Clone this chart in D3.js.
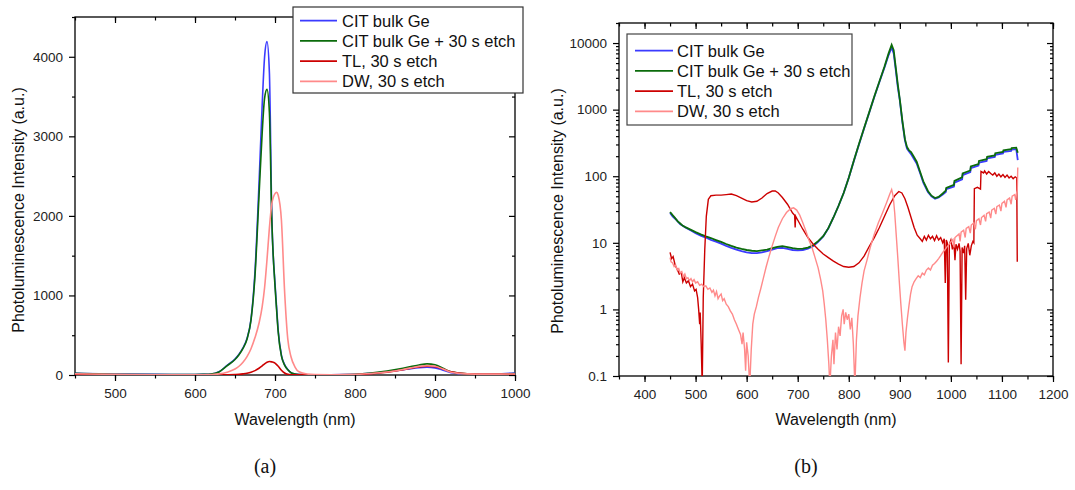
<!DOCTYPE html>
<html>
<head>
<meta charset="utf-8">
<script src="https://cdn.jsdelivr.net/npm/d3@7"></script>
<style>
body { margin: 0; background: #fff; }
svg { display: block; font-family: "Liberation Sans", Arial, sans-serif; }
.axis line { stroke: #000; stroke-width: 1.2; }
.axis text { font-size: 13.5px; fill: #222; font-family: "Liberation Sans", Arial, sans-serif; }
</style>
</head>
<body>
<svg id="fig" width="1075" height="490"></svg>
<script>
// series names + colours (same for both panels)
const seriesNames = ["CIT bulk Ge", "CIT bulk Ge + 30 s etch", "TL, 30 s etch", "DW, 30 s etch"];
const seriesColors = ["#3b3bff", "#0b6b0b", "#cc0000", "#ff8a8a"];

// panel (a), linear intensity
const wlLin = [450, 500, 550, 600, 610, 620, 630, 640, 650, 655, 660, 665, 670, 675, 680, 684, 687, 690, 693, 696, 700, 702, 704, 708, 712, 716, 720, 725, 730, 740, 750, 770, 800, 820, 840, 860, 870, 880, 890, 900, 910, 920, 940, 960, 1000];
const linCIT = [22, 12, 8, 6, 8, 12, 40, 120, 200, 260, 340, 460, 700, 1300, 2400, 3400, 4000, 4190, 3800, 2000, 1150, 850, 560, 250, 130, 70, 30, 12, 6, 4, 3, 3, 8, 20, 40, 65, 80, 92, 98, 90, 60, 30, 12, 10, 25];
const linCITetch = [20, 10, 7, 6, 8, 12, 38, 115, 195, 255, 335, 450, 690, 1250, 2250, 3050, 3480, 3590, 3300, 1950, 1120, 820, 540, 240, 125, 65, 28, 12, 6, 4, 3, 4, 10, 25, 50, 85, 105, 125, 140, 128, 85, 40, 14, 10, 18];
const linTL = [8, 2, 0, 0, 0, 0, 0, 2, 5, 8, 14, 22, 35, 55, 85, 115, 140, 160, 170, 165, 150, 130, 110, 60, 25, 8, 3, 2, 2, 1, 1, 1, 4, 15, 35, 65, 85, 100, 110, 105, 75, 40, 15, 12, 10];
const linDW = [15, 8, 4, 2, 3, 6, 14, 35, 75, 110, 160, 230, 330, 470, 650, 860, 1100, 1450, 1850, 2150, 2280, 2296, 2260, 1950, 1050, 450, 230, 100, 40, 12, 6, 4, 8, 18, 38, 70, 90, 108, 118, 110, 75, 35, 14, 11, 12];

const xTicksA = [500, 600, 700, 800, 900, 1000];
const xMinorA = [450, 500, 550, 600, 650, 700, 750, 800, 850, 900, 950, 1000];
const yTicksA = [0, 1000, 2000, 3000, 4000];
const yMinorA = [500, 1500, 2500, 3500, 4500];

// panel (b), log intensity: [nm, CIT bulk Ge, CIT bulk Ge + etch]
const citLog = [[450,28,29],[455,25,26],[460,23,23.5],[465,21,21],[470,19,19.5],[475,18,18],[480,17,17.2],[490,15.4,15.8],[500,14,14.5],[510,12.8,13.4],[520,12,12.5],[530,11.1,11.8],[540,10.4,11],[550,9.7,10.3],[560,9,9.6],[570,8.4,9],[580,7.9,8.5],[590,7.5,8.1],[600,7.2,7.8],[610,7,7.6],[620,7,7.5],[630,7.2,7.7],[640,7.5,7.9],[650,7.9,8.3],[660,8.3,8.7],[670,8.4,8.9],[680,8.1,8.6],[690,7.8,8.3],[700,7.7,8.1],[710,7.8,8.2],[720,8.2,8.5],[730,8.9,9.2],[740,10.3,10.6],[750,12.5,12.6],[760,16.5,16.6],[770,24,24],[780,36,36],[790,56,56],[800,95,95],[810,170,172],[820,300,305],[830,520,530],[840,900,910],[850,1550,1580],[860,2600,2650],[870,4300,4450],[878,6600,7000],[884,8600,9400],[888,7000,7800],[892,4000,4300],[896,2200,2400],[900,1380,1420],[905,650,680],[910,345,360],[914,260,275],[918,235,245],[922,215,230],[926,190,205],[933,155,165],[940,110,115],[946,80,84],[955,58,60],[962,50,51],[969,46,47],[976,48,49],[984,53,55],[990,58,61],[991,64,67],[1006,70,74],[1007,80,85],[1022,90,96],[1023,104,110],[1038,115,122],[1039,132,140],[1054,145,152],[1055,160,170],[1070,170,180],[1071,185,196],[1086,195,205],[1087,210,222],[1102,220,232],[1103,232,245],[1118,240,255],[1119,250,265],[1128,255,268],[1131,175,225]];

// [nm, TL 30 s etch]
const tlLog = [[450,7.2],[453,5.8],[456,6.2],[460,4.6],[464,4],[468,3.4],[472,3.6],[475,2.6],[478,3],[482,2.5],[486,2.7],[490,2.2],[494,2.4],[498,1.9],[501,2],[504,1.5],[506,1],[508,0.6],[509,0.9],[511,0.3],[513,0.07],[515,1.5],[518,8],[521,25],[525,45],[530,51],[540,52],[550,52],[560,53],[570,54],[580,51],[590,47],[600,43],[610,41],[620,42],[630,47],[640,55],[650,60],[656,60],[662,56],[670,48],[680,38],[690,28],[694,26],[695,17],[696,25],[700,22],[710,16],[720,12],[730,9.6],[740,8],[750,6.8],[760,6],[770,5.3],[780,4.8],[790,4.4],[800,4.3],[810,4.4],[820,5],[830,6.3],[840,8.8],[850,12],[860,17],[870,25],[880,37],[890,51],[898,59],[904,56],[910,46],[916,34],[922,24],[928,17],[934,13],[940,11.5],[944,10.5],[948,12.5],[952,11],[956,13],[960,11.5],[964,12.5],[968,10.8],[972,12.8],[976,11],[980,12],[984,10],[987,11.5],[989,2.5],[991,11],[993,10],[995,0.16],[997,9.5],[1000,11],[1003,8],[1006,10],[1008,5.5],[1010,9.5],[1013,8],[1016,9.8],[1018,7.5],[1020,0.15],[1022,8.5],[1025,7],[1027,9],[1029,1.4],[1031,8.2],[1034,9.8],[1037,6.5],[1040,9],[1043,10.5],[1045,10],[1046,65],[1052,68],[1058,64],[1059,118],[1064,112],[1066,120],[1070,108],[1074,118],[1078,110],[1082,104],[1086,112],[1090,100],[1094,108],[1098,98],[1102,106],[1106,96],[1110,104],[1114,94],[1118,100],[1122,92],[1126,98],[1129,94],[1130,5.2]];

// [nm, DW 30 s etch]
const dwLog = [[450,6],[452,5.2],[455,5],[458,4.4],[461,4.6],[464,3.9],[467,4.1],[470,3.5],[473,3.7],[476,3.1],[479,3.4],[482,2.9],[485,3],[488,2.7],[491,2.9],[494,2.6],[497,2.8],[500,2.5],[504,2.6],[508,2.3],[512,2.4],[516,2.2],[520,2.25],[524,2],[528,2.1],[532,1.8],[535,1.95],[538,1.6],[541,1.85],[544,1.45],[547,1.6],[550,1.7],[553,1.35],[556,1.45],[560,1.2],[564,1.1],[568,0.95],[572,0.85],[576,0.7],[580,0.6],[584,0.5],[588,0.42],[591,0.3],[593,0.45],[596,0.25],[598,0.12],[600,0.32],[603,0.2],[606,0.07],[609,0.25],[612,0.6],[615,0.85],[619,1.1],[623,1.5],[628,2.1],[633,3],[638,4.3],[644,6.3],[650,9],[656,12.5],[662,17],[670,23],[678,28.5],[686,32.5],[692,33.5],[698,31],[704,26],[710,20],[716,15],[722,11],[728,8.5],[734,6],[740,4.2],[745,2.8],[749,1.9],[752,1.2],[755,0.7],[758,0.35],[761,0.15],[763,0.07],[766,0.2],[769,0.35],[771,0.15],[774,0.45],[777,0.25],[780,0.55],[783,0.4],[786,0.8],[789,1],[791,0.6],[794,0.9],[797,0.7],[800,0.85],[803,0.5],[806,0.75],[809,0.3],[812,0.07],[815,0.35],[818,0.8],[822,1.5],[826,2.5],[830,3.8],[836,5.6],[842,8.5],[850,13.5],[858,20],[866,28],[874,40],[880,53],[884,63],[887,50],[890,28],[893,13],[896,6],[899,2.6],[902,1.2],[905,0.6],[908,0.32],[910,0.24],[912,0.45],[915,0.75],[918,1.15],[921,1.7],[924,2.2],[928,2.6],[932,2.9],[936,3.2],[940,3],[944,3.5],[948,3.3],[952,3.9],[956,4.2],[960,3.9],[964,4.6],[968,4.9],[972,5.3],[976,5.8],[980,6.4],[984,7.2],[988,7.8],[992,8.6],[996,9.4],[1000,10.3],[1004,11.2],[1006,8.5],[1008,12],[1012,12.8],[1016,13.6],[1018,10.5],[1020,14.5],[1025,15.5],[1028,12],[1030,16.5],[1035,17.5],[1038,14],[1040,18.5],[1045,20],[1048,16],[1050,21.5],[1055,23],[1058,18.5],[1060,24],[1065,26],[1068,21],[1070,27.5],[1075,29],[1078,23.5],[1080,31],[1085,33],[1088,27],[1090,35],[1095,37],[1098,30],[1100,39],[1105,42],[1108,34],[1110,44],[1115,47],[1118,38],[1120,50],[1125,53],[1127,44],[1129,57],[1130,62],[1131,135]];

const xTicksB = [400, 500, 600, 700, 800, 900, 1000, 1100, 1200];
const xMinorB = [350, 400, 450, 500, 550, 600, 650, 700, 750, 800, 850, 900, 950, 1000, 1050, 1100, 1150, 1200];
const yTicksB = [0.1, 1, 10, 100, 1000, 10000];

const svg = d3.select("#fig");
svg.append("rect").attr("width", 1075).attr("height", 490).attr("fill", "#fff");

// frame with ticks on all four sides (outward bottom/left, inward top/right)
function frameAxes(x, y, xMajor, xMinor, yMajor, yMinor) {
  const [x0, x1] = x.range();
  const [y0, y1] = y.range();
  const g = svg.append("g").attr("class", "axis");

  g.append("g").attr("transform", `translate(0,${y0})`)
    .call(d3.axisBottom(x).tickValues(xMinor).tickSize(3.5).tickFormat(""));
  g.append("g").attr("transform", `translate(0,${y0})`)
    .call(d3.axisBottom(x).tickValues(xMajor).tickSize(6).tickPadding(7).tickFormat(d => String(d)));
  g.append("g").attr("transform", `translate(0,${y1})`)
    .call(d3.axisBottom(x).tickValues(xMinor).tickSize(3.5).tickFormat(""));
  g.append("g").attr("transform", `translate(0,${y1})`)
    .call(d3.axisBottom(x).tickValues(xMajor).tickSize(6).tickFormat(""));

  g.append("g").attr("transform", `translate(${x0},0)`)
    .call(d3.axisLeft(y).tickValues(yMinor).tickSize(3).tickFormat(""));
  g.append("g").attr("transform", `translate(${x0},0)`)
    .call(d3.axisLeft(y).tickValues(yMajor).tickSize(6).tickPadding(6).tickFormat(d => String(d)));
  g.append("g").attr("transform", `translate(${x1},0)`)
    .call(d3.axisRight(y).tickValues(yMinor).tickSize(-3).tickFormat(""));
  g.append("g").attr("transform", `translate(${x1},0)`)
    .call(d3.axisRight(y).tickValues(yMajor).tickSize(-6).tickFormat(""));

  g.selectAll(".domain").remove();
  svg.append("rect")
    .attr("x", x0).attr("y", y1)
    .attr("width", x1 - x0).attr("height", y0 - y1)
    .attr("fill", "none").attr("stroke", "#000").attr("stroke-width", 1.3);
}

function titles(x, y, yTitleX, yTitleY) {
  const [x0, x1] = x.range();
  svg.append("text")
    .attr("x", (x0 + x1) / 2).attr("y", 419).attr("dy", "0.35em")
    .attr("text-anchor", "middle").attr("font-size", 16).attr("fill", "#111")
    .text("Wavelength (nm)");
  svg.append("text")
    .attr("transform", `translate(${yTitleX},${yTitleY}) rotate(-90)`)
    .attr("dy", "0.35em")
    .attr("text-anchor", "middle").attr("font-size", 16).attr("fill", "#111")
    .text("Photoluminescence Intensity (a.u.)");
}

function legend(bx, by, bw, bh, rowY, lineX0, lineX1, textX, borderColor) {
  svg.append("rect")
    .attr("x", bx).attr("y", by).attr("width", bw).attr("height", bh)
    .attr("fill", "#fff").attr("stroke", borderColor).attr("stroke-width", 1.2);
  seriesNames.forEach((name, i) => {
    const yy = rowY + i * 20.2;
    svg.append("line")
      .attr("x1", lineX0).attr("x2", lineX1).attr("y1", yy).attr("y2", yy)
      .attr("stroke", seriesColors[i]).attr("stroke-width", 1.8);
    svg.append("text")
      .attr("x", textX).attr("y", yy).attr("dy", "0.36em")
      .attr("font-size", 16.5).attr("fill", "#111")
      .text(name);
  });
}

// ---------- panel (a) ----------
const xA = d3.scaleLinear().domain([450, 1000]).range([75, 515]);
const yA = d3.scaleLinear().domain([0, 4500]).range([375, 17]);

svg.append("clipPath").attr("id", "clipA")
  .append("rect").attr("x", 75).attr("y", 17).attr("width", 440).attr("height", 358);

frameAxes(xA, yA, xTicksA, xMinorA, yTicksA, yMinorA);
titles(xA, yA, 18, 210);

const lineA = d3.line()
  .x(d => xA(d[0])).y(d => yA(d[1]))
  .curve(d3.curveMonotoneX);

[linCIT, linCITetch, linTL, linDW].forEach((vals, i) => {
  svg.append("path")
    .datum(wlLin.map((w, k) => [w, vals[k]]))
    .attr("clip-path", "url(#clipA)")
    .attr("fill", "none")
    .attr("stroke", seriesColors[i])
    .attr("stroke-width", 1.6)
    .attr("d", lineA);
});

legend(293, 7, 230, 86, 20.7, 300, 337, 342, "#333");

// ---------- panel (b) ----------
const xB = d3.scaleLinear().domain([350, 1200]).range([619, 1053]);
const yB = d3.scaleLog().domain([0.1, 20000]).range([376, 23]);
const yMinorB = yB.ticks().filter(v => !yTicksB.includes(v));

svg.append("clipPath").attr("id", "clipB")
  .append("rect").attr("x", 619).attr("y", 23).attr("width", 434).attr("height", 353);

frameAxes(xB, yB, xTicksB, xMinorB, yTicksB, yMinorB);
titles(xB, yB, 557, 211);

const lineB = d3.line().x(d => xB(d[0])).y(d => yB(d[1]));

const logSeries = [
  citLog.map(d => [d[0], d[1]]),
  citLog.map(d => [d[0], d[2]]),
  tlLog,
  dwLog
];
logSeries.forEach((pts, i) => {
  svg.append("path")
    .datum(pts)
    .attr("clip-path", "url(#clipB)")
    .attr("fill", "none")
    .attr("stroke", seriesColors[i])
    .attr("stroke-width", i < 2 ? 1.8 : 1.4)
    .attr("d", lineB);
});

legend(627, 34, 225, 91, 50.7, 635, 673, 677, "#444");

// sub-captions
svg.append("text").attr("x", 265).attr("y", 466).attr("dy", "0.35em")
  .attr("text-anchor", "middle").attr("font-size", 20)
  .attr("font-family", "'Liberation Serif', 'DejaVu Serif', serif").attr("fill", "#111")
  .text("(a)");
svg.append("text").attr("x", 806).attr("y", 466).attr("dy", "0.35em")
  .attr("text-anchor", "middle").attr("font-size", 20)
  .attr("font-family", "'Liberation Serif', 'DejaVu Serif', serif").attr("fill", "#111")
  .text("(b)");
</script>
</body>
</html>
